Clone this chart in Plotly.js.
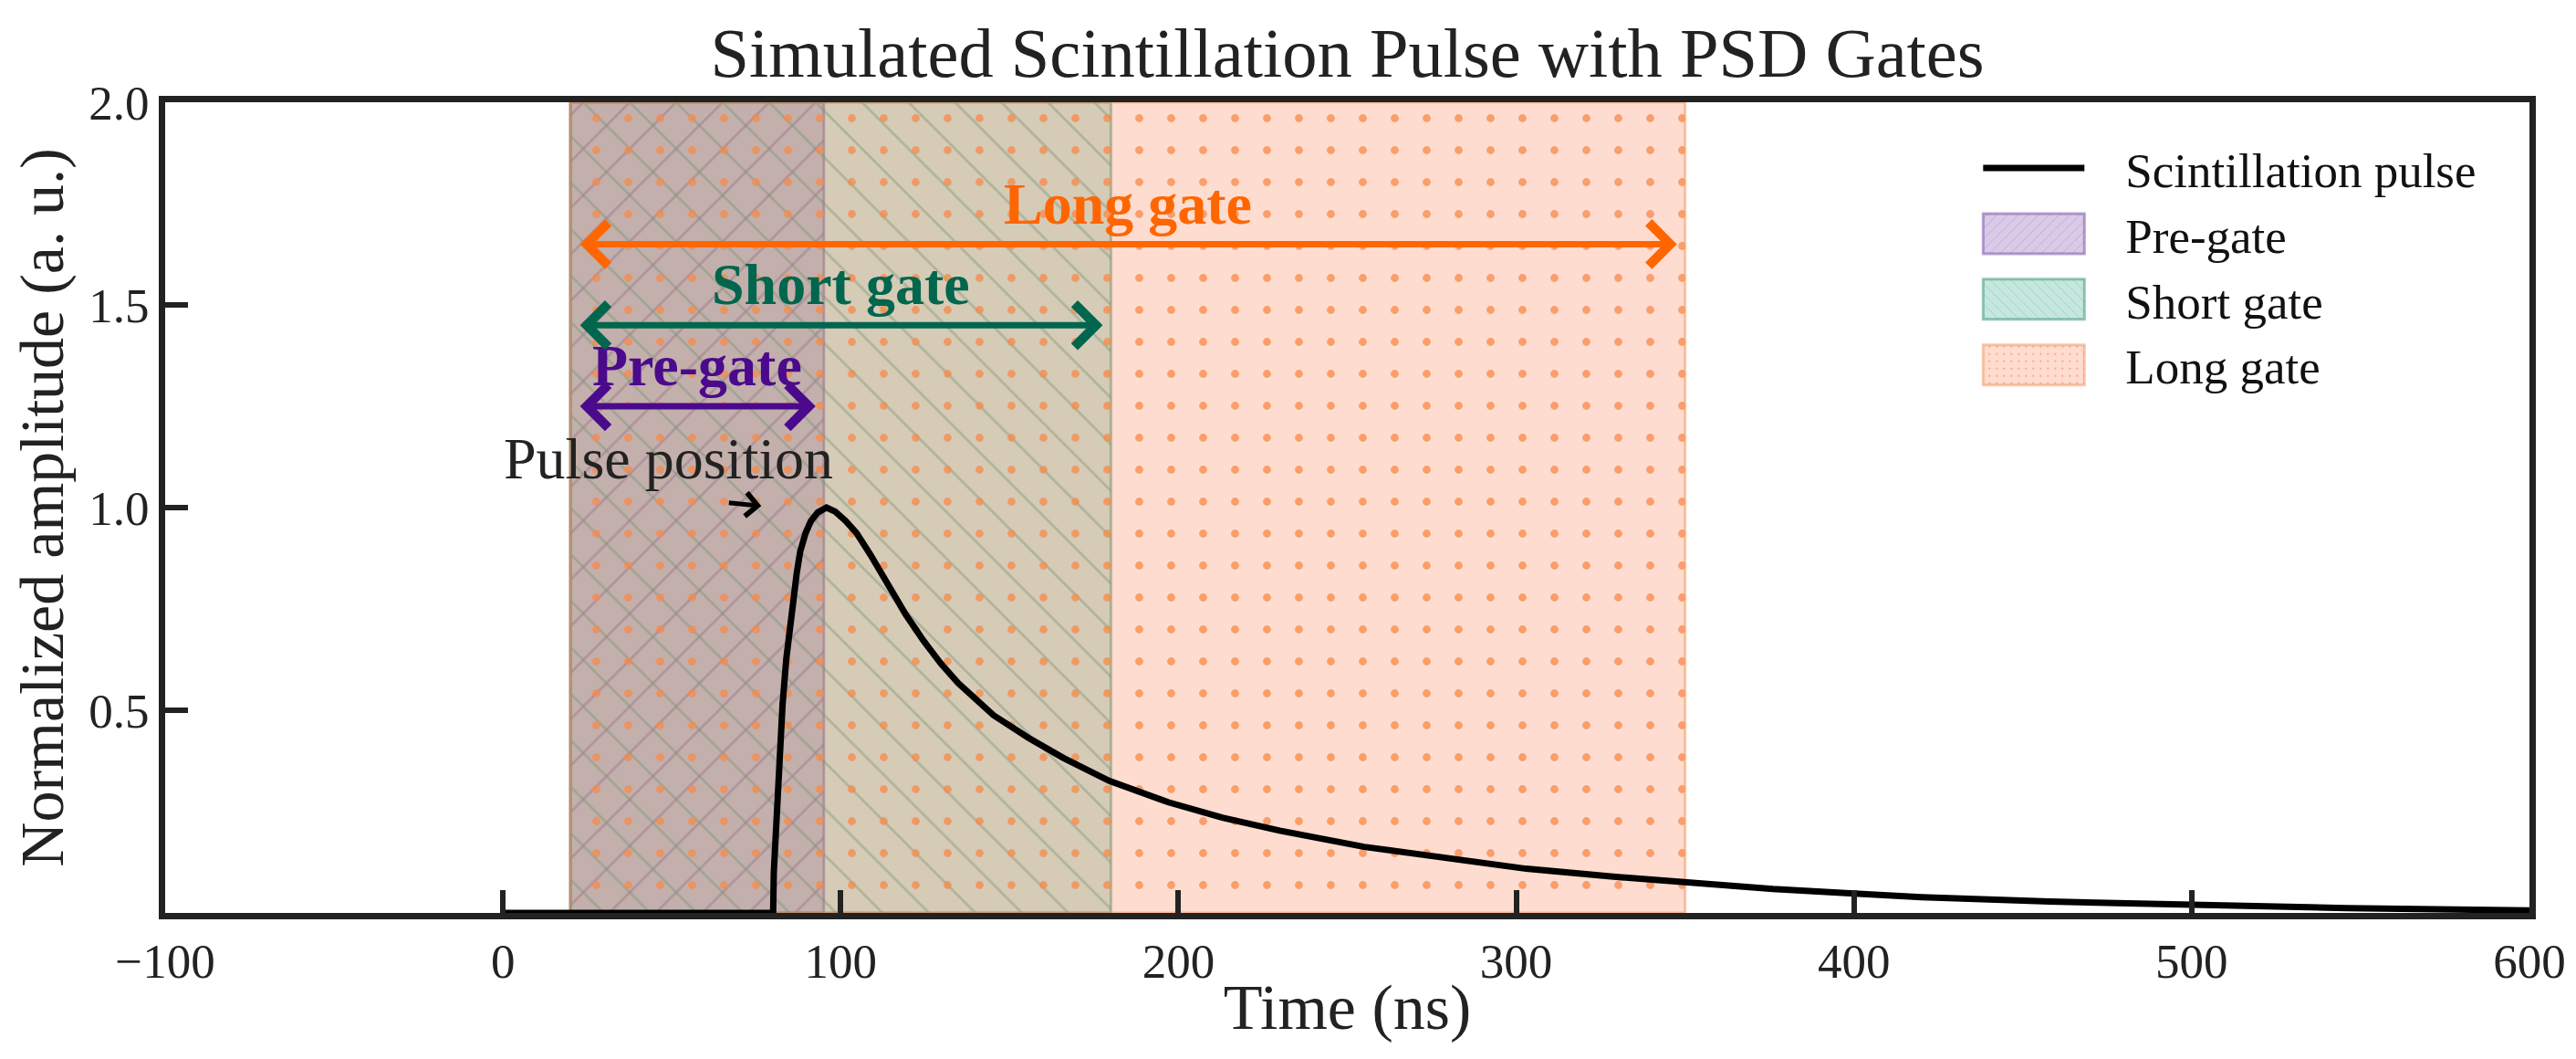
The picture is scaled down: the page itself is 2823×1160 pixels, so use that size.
<!DOCTYPE html>
<html>
<head>
<meta charset="utf-8">
<script src="https://cdn.plot.ly/plotly-3.0.1.min.js"></script>
<style>
  html, body { margin: 0; padding: 0; background: #fff; }
  #chart { width: 2823px; height: 1160px; }
</style>
</head>
<body>
<div id="chart"></div>
<script>
// pulse (time in ns, normalized amplitude)
const pulseTime = [0, 80, 80.2, 81.8, 82.8, 83.9, 84.9, 86, 87, 88, 89.6, 91.2, 93.2, 95.8, 98.4, 101.5, 104.7, 108.8, 111.9, 116, 119.2, 124.4, 129.6, 134.8, 140, 145.2, 155.6, 166, 179.5, 197, 213, 230, 255, 279, 303, 328, 352, 376, 400, 420, 458, 500, 546, 600]
const pulseAmp  = [0, 0, 0.1, 0.40, 0.515, 0.627, 0.703, 0.778, 0.839, 0.891, 0.937, 0.967, 0.988, 1.0, 0.99, 0.967, 0.937, 0.884, 0.839, 0.778, 0.737, 0.673, 0.616, 0.567, 0.526, 0.488, 0.432, 0.382, 0.326, 0.273, 0.235, 0.203, 0.163, 0.135, 0.109, 0.090, 0.073, 0.059, 0.048, 0.039, 0.028, 0.019, 0.012, 0.006]

// PSD gates
const gateNames  = ["Pre-gate", "Short gate", "Long gate"]
const gateStart  = [20, 20, 20]
const gateEnd    = [95, 180, 350]
const gateArrowY = [1.25, 1.45, 1.65]
const gateLabelY = [1.35, 1.55, 1.75]

// axes
const xRange = [-100, 600]
const yRange = [0, 2]
const xTicks = [-100, 0, 100, 200, 300, 400, 500, 600]
const yTicks = [0.5, 1.0, 1.5, 2.0]
const yTickText = ["0.5", "1.0", "1.5", "2.0"]

class PulseChart {

    constructor(container){
        this.container = container
        this.CONST = {
            font: "Liberation Serif, Times New Roman, serif",
            ink: "#222222",
            swatchW: 111,
            swatchH: 44
        }
        this.gateStyle = [
            {fill: "rgba(148,103,189,0.35)", fg: "#7d55a8", fgop: 0.45, edge: "rgba(125,85,168,0.55)", shape: "/",  arrow: "#4b0a8c"},
            {fill: "rgba(27,158,119,0.25)",  fg: "#3f9a7e", fgop: 0.45, edge: "rgba(63,154,126,0.55)", shape: "\\", arrow: "#00664d"},
            {fill: "rgba(252,141,98,0.30)",  fg: "#f7884a", fgop: 0.75, edge: "rgba(247,136,74,0.45)", shape: ".",  arrow: "#ff6600"}
        ]
    }

    _gateTraces(){
        return gateNames.map((name, i) => {
            const st = this.gateStyle[i]
            return {
                type: "bar",
                name: name,
                x: [(gateStart[i] + gateEnd[i]) / 2],
                width: [gateEnd[i] - gateStart[i]],
                y: [yRange[1]],
                base: [yRange[0]],
                legendrank: 2 + i,
                hoverinfo: "skip",
                marker: {
                    color: st.fill,
                    line: {color: st.edge, width: 3},
                    pattern: {
                        shape: st.shape,
                        fillmode: "overlay",
                        bgcolor: st.fill,
                        fgcolor: st.fg,
                        fgopacity: st.fgop,
                        size: st.shape == "." ? 35 : 36,
                        solidity: st.shape == "." ? 0.05 : 0.075
                    }
                }
            }
        })
    }

    _annotations(){
        const notes = []
        gateNames.forEach((name, i) => {
            const st = this.gateStyle[i]
            notes.push({
                x: gateEnd[i], y: gateArrowY[i], ax: gateStart[i], ay: gateArrowY[i],
                xref: "x", yref: "y", axref: "x", ayref: "y",
                text: "", showarrow: true, arrowside: "end+start",
                standoff: 9, startstandoff: 9,
                arrowhead: 4, arrowsize: 1.3, arrowwidth: 7, arrowcolor: st.arrow
            })
            notes.push({
                x: (gateStart[i] + gateEnd[i]) / 2, y: gateLabelY[i],
                xref: "x", yref: "y", showarrow: false,
                text: "<b>" + name + "</b>",
                font: {size: 64, color: st.arrow, family: this.CONST.font}
            })
        })
        // pulse position marker
        notes.push({
            x: 49, y: 1.12, xref: "x", yref: "y", showarrow: false,
            text: "Pulse position", font: {size: 64, color: this.CONST.ink, family: this.CONST.font}
        })
        notes.push({
            x: 76.5, y: 1.004, ax: 66.5, ay: 1.012,
            xref: "x", yref: "y", axref: "x", ayref: "y",
            text: "", showarrow: true, arrowhead: 4, arrowsize: 1, arrowwidth: 5, arrowcolor: "#000"
        })
        return notes
    }

    // plotly legend swatches are tiny squares, widen them like matplotlib patches
    _widenLegend(gd){
        const w = this.CONST.swatchW
        const h = this.CONST.swatchH
        const line = gd.querySelector(".legend .legendlines path")
        if(!line) return
        const x0 = line.getBBox().x
        line.setAttribute("d", "M" + x0 + ",0h" + w)
        gd.querySelectorAll(".legend .legendpoints path").forEach((p) => {
            p.removeAttribute("transform")
            p.setAttribute("d", "M" + x0 + "," + (-h / 2) + "h" + w + "v" + h + "h" + (-w) + "Z")
        })
    }

    draw(){
        const ink = this.CONST.ink
        const pulse = {
            type: "scatter", mode: "lines", name: "Scintillation pulse",
            x: pulseTime, y: pulseAmp, legendrank: 1,
            line: {color: "#000", width: 7}, hoverinfo: "skip"
        }
        const data = this._gateTraces().concat([pulse])

        const axisCommon = {
            showline: true, linewidth: 7, linecolor: ink, mirror: true,
            ticks: "inside", ticklen: 25, tickwidth: 6, tickcolor: ink,
            showgrid: false, zeroline: false,
            tickfont: {size: 53, color: ink, family: this.CONST.font}
        }

        const layout = {
            width: 2823, height: 1160,
            margin: {l: 181, r: 51, t: 112, b: 160},
            paper_bgcolor: "#fff", plot_bgcolor: "#fff",
            font: {family: this.CONST.font, color: ink, size: 53},
            title: {
                text: "Simulated Scintillation Pulse with PSD Gates",
                font: {size: 76.5, color: ink, family: this.CONST.font},
                x: 0.5, xref: "paper", y: 0.951, yanchor: "middle"
            },
            barmode: "overlay",
            showlegend: true,
            legend: {
                x: 0.767, y: 0.965, xanchor: "left", yanchor: "top",
                bgcolor: "rgba(0,0,0,0)", borderwidth: 0,
                itemwidth: 151, traceorder: "normal",
                font: {size: 53, color: "#111", family: this.CONST.font}
            },
            xaxis: Object.assign({}, axisCommon, {
                range: xRange, tickvals: xTicks,
                title: {text: "Time (ns)", font: {size: 70, color: ink, family: this.CONST.font}, standoff: 0}
            }),
            yaxis: Object.assign({}, axisCommon, {
                range: yRange, tickvals: yTicks, ticktext: yTickText,
                title: {text: "Normalized amplitude (a. u.)", font: {size: 68, color: ink, family: this.CONST.font}, standoff: 8}
            }),
            annotations: this._annotations()
        }

        return Plotly.newPlot(this.container, data, layout, {displayModeBar: false, staticPlot: true})
            .then((gd) => { this._widenLegend(gd); return gd })
    }
}

const chart = new PulseChart(document.getElementById("chart"))
chart.draw()
</script>
</body>
</html>
